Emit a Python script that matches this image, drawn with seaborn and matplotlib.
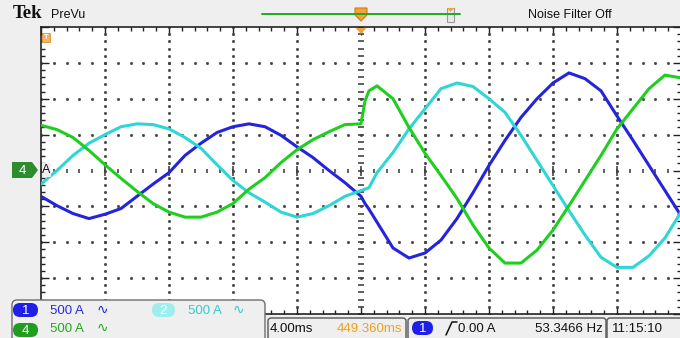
import numpy as np
import pandas as pd
import matplotlib
matplotlib.use("Agg")
import matplotlib.pyplot as plt
from matplotlib.patches import FancyBboxPatch, Polygon, Rectangle
import seaborn as sns

# time axis (ms, trigger at 0) and channel currents (A)
t_ms = [-20, -19, -18, -17, -16, -15, -14, -13, -12, -11, -10, -9, -8, -7, -6, -5, -4, -3, -2, -1, 0,
        0.25, 0.5,
        1, 2, 3, 4, 5, 6, 7, 8, 9, 10, 11, 12, 13, 14, 15, 16, 17, 18, 19, 20]
ch1_amps = [-360, -490, -600, -670, -610, -530, -360, -190, -30, 210, 380, 530, 610, 650, 610, 490, 330, 180, 0, -170, -360,
            -460, -540,
            -720, -1080, -1220, -1150, -970, -670, -310, 70, 420, 740, 1000, 1220, 1360, 1280, 1110, 760, 420, 70, -280, -630]
ch2_amps = [-190, 0, 210, 380, 500, 610, 650, 640, 580, 460, 310, 80, -140, -310, -440, -580, -650, -600, -490, -360, -280,
            -260, -240,
            -30, 250, 580, 860, 1140, 1220, 1170, 1000, 810, 490, 140, -210, -560, -900, -1210, -1350, -1350, -1190, -940, -580]
ch4_amps = [630, 570, 460, 280, 80, -110, -290, -460, -580, -650, -650, -580, -460, -260, -100, 110, 290, 430, 540, 640, 650,
            970, 1110,
            1180, 1000, 600, 240, -70, -390, -760, -1080, -1290, -1290, -1110, -830, -490, -140, 210, 580, 860, 1140, 1330, 1290]

TRACE_COLORS = {"1": "#2424dc", "2": "#2ed6d6", "4": "#1ecf1e"}
MS_PER_DIV, A_PER_DIV = 4.0, 500.0

sns.set_theme(style="white")
plt.rcParams["font.family"] = ["Liberation Sans", "DejaVu Sans"]

W, H = 680, 338
fig = plt.figure(figsize=(W / 100, H / 100), dpi=100, facecolor="#efefef")

# graticule area in pixels: x 41..681, y 27..314
gx0, gx1, gy0, gy1 = 41, 681, 27, 314
ax = fig.add_axes([gx0 / W, 1 - gy1 / H, (gx1 - gx0) / W, (gy1 - gy0) / H])
ax.set_facecolor("white")
ax.set_xlim(-5 * MS_PER_DIV, 5 * MS_PER_DIV)
ax.set_ylim(-4 * A_PER_DIV, 4 * A_PER_DIV)

# dotted graticule
xs_minor = np.arange(-20, 20.01, MS_PER_DIV / 5)
ys_minor = np.arange(-2000, 2000.1, A_PER_DIV / 5)
for gx in np.arange(-16, 16.1, MS_PER_DIV):
    if abs(gx) < 1e-9:
        continue
    ax.plot(np.full_like(ys_minor, gx), ys_minor, ls="none", marker="s", ms=1.0, color="#444444", zorder=1)
for gy in np.arange(-1500, 1500.1, A_PER_DIV):
    if abs(gy) < 1e-9:
        continue
    ax.plot(xs_minor, np.full_like(xs_minor, gy), ls="none", marker="s", ms=1.0, color="#444444", zorder=1)
# centre cross with tick dashes
ax.plot(np.zeros_like(ys_minor), ys_minor, ls="none", marker="_", ms=4.5, mew=1.2, color="#444444", zorder=1)
ax.plot(xs_minor, np.zeros_like(xs_minor), ls="none", marker="|", ms=3.5, mew=1.2, color="#444444", zorder=1)
ax.plot(np.arange(-16, 16.1, 4), np.zeros(9), ls="none", marker="|", ms=7, mew=1.2, color="#444444", zorder=1)

# edge rulers
ax.set_xticks(np.arange(-20, 20.1, MS_PER_DIV))
ax.set_xticks(xs_minor, minor=True)
ax.set_yticks(np.arange(-2000, 2000.1, A_PER_DIV))
ax.set_yticks(ys_minor, minor=True)
ax.tick_params(which="both", direction="in", top=True, right=True, bottom=True, left=True,
               labelbottom=False, labelleft=False, color="#222222", width=1)
ax.tick_params(which="major", length=6)
ax.tick_params(which="minor", length=3)
for s in ax.spines.values():
    s.set_color("#222222")
    s.set_linewidth(1.2)

# traces
df = pd.concat([
    pd.DataFrame({"t": t_ms, "amps": ch1_amps, "ch": "1"}),
    pd.DataFrame({"t": t_ms, "amps": ch2_amps, "ch": "2"}),
    pd.DataFrame({"t": t_ms, "amps": ch4_amps, "ch": "4"}),
])
sns.lineplot(data=df, x="t", y="amps", hue="ch", palette=TRACE_COLORS, linewidth=2.2,
             estimator=None, sort=False, legend=False, ax=ax, zorder=3)
ax.set_xlabel(""); ax.set_ylabel("")

# overlay in pixel coordinates for the scope chrome
deco = fig.add_axes([0, 0, 1, 1], zorder=5)
deco.set_xlim(0, W); deco.set_ylim(H, 0)
deco.axis("off")
deco.patch.set_alpha(0)

# top bar
deco.text(13, 14, "Tek", fontsize=13.5, fontweight="bold", family=["Liberation Serif", "DejaVu Serif"],
          va="center", ha="left", color="#111111")
deco.text(51, 15, "PreVu", fontsize=9, va="center", ha="left", color="#111111")
deco.plot([262, 460], [14, 14], color="#22aa22", lw=1.4)
deco.add_patch(Polygon([(355, 8), (367, 8), (367, 15), (361, 21), (355, 15)], closed=True,
                       fc="#f5a23a", ec="#d07a10", lw=0.8))
deco.add_patch(Rectangle((447, 8), 7, 14, fc="#e8e8e8", ec="#999999", lw=0.8))
deco.add_patch(Polygon([(447, 8), (454, 8), (450.5, 12)], closed=True, fc="#f5a23a", ec="none"))
deco.text(528, 15, "Noise Filter Off", fontsize=9, va="center", ha="left", color="#111111")

# trigger position and expansion markers
deco.add_patch(Polygon([(355.5, 28), (366.5, 28), (361, 34)], closed=True, fc="#f5a23a", ec="none"))
deco.add_patch(Rectangle((42, 33), 8, 9, fc="#f7b060", ec="#e09030", lw=0.6))
deco.text(46, 37.5, "T", fontsize=5.5, color="white", ha="center", va="center", fontweight="bold")

# channel 4 ground marker
deco.add_patch(Polygon([(12, 162), (32, 162), (38, 170), (32, 178), (12, 178)], closed=True,
                       fc="#2e8b2e", ec="none"))
deco.text(22, 170.5, "4", fontsize=9.5, color="white", ha="center", va="center")
deco.add_patch(Rectangle((42, 163), 9, 14, fc="#efefef", ec="none"))
deco.text(46.5, 170, "A", fontsize=9, color="#111111", ha="center", va="center")

# channel readout box
deco.add_patch(FancyBboxPatch((12, 300), 253, 50, boxstyle="round,pad=0,rounding_size=5",
                              fc="#efefef", ec="#6f6f6f", lw=1))


def badge(x, y, w, label, fc, tc="white"):
    deco.add_patch(FancyBboxPatch((x, y), w, 14, boxstyle="round,pad=0,rounding_size=7",
                                  fc=fc, ec="none"))
    deco.text(x + w / 2, y + 7.5, label, fontsize=9.5, color=tc, ha="center", va="center")


badge(13, 303, 25, "1", "#1f1fe6")
badge(152, 303, 23, "2", "#9eeeee")
badge(13, 323, 25, "4", "#1e9e1e")
readouts = [(50, 311, "#2a2ae0", 97), (188, 311, "#33cccc", 233), (50, 329, "#20aa20", 97)]
for (x, y, c, sx) in readouts:
    deco.text(x, y, "500 A", fontsize=9.5, color=c, ha="left", va="center")
    deco.text(sx, y - 1, "\u223f", fontsize=10, color=c, ha="left", va="center", family=["DejaVu Sans"])

# status bar
for (x, w) in [(268, 138), (408, 198), (607, 80)]:
    deco.add_patch(FancyBboxPatch((x, 318), w, 30, boxstyle="round,pad=0,rounding_size=3",
                                  fc="#efefef", ec="#555555", lw=1))
deco.text(270, 329, "4.00ms", fontsize=9.5, color="#111111", ha="left", va="center")
deco.text(402, 329, "449.360ms", fontsize=9.5, color="#f0a020", ha="right", va="center")
badge(412, 321, 21, "1", "#1f1fe6")
deco.plot([446, 452, 457], [335, 322, 322], color="#111111", lw=1.1)
deco.text(458, 329, "0.00 A", fontsize=9.5, color="#111111", ha="left", va="center")
deco.text(603, 329, "53.3466 Hz", fontsize=9.5, color="#111111", ha="right", va="center")
deco.text(612, 329, "11:15:10", fontsize=9.5, color="#111111", ha="left", va="center")

fig.savefig("out.png", dpi=100, facecolor=fig.get_facecolor())
